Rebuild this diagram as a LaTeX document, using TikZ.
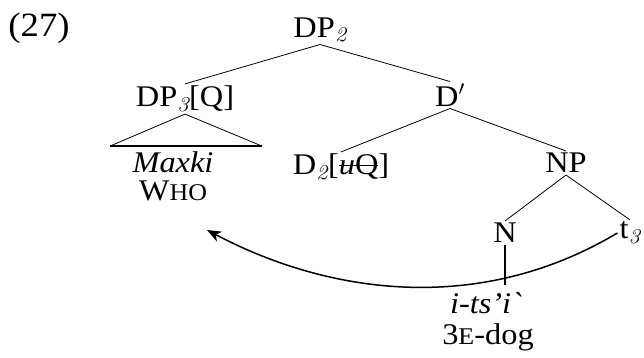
\RequirePackage{fix-cm}
\documentclass[tikz,border=0pt]{standalone}
\usepackage{fontspec}
\setmainfont{Liberation Serif}[FakeStretch=1.08]
\newfontfamily\lmfont{Latin Modern Roman}[FakeStretch=1.08]
\newfontfamily\rawfont{Liberation Serif}[FakeStretch=1.08]
\usetikzlibrary{arrows.meta}
\newcommand{\ix}[1]{\textsubscript{\lmfont\itshape #1}}
\newcommand{\smc}[1]{{\fontsize{24}{24}\selectfont #1}}
\newsavebox{\strikebox}
\newcommand{\strike}[1]{\sbox{\strikebox}{#1}\rlap{\rule[.3em]{\wd\strikebox}{1pt}}\usebox{\strikebox}}

\begin{document}
\begin{tikzpicture}[x=1pt,y=1pt,font=\fontsize{30}{36}\selectfont,
    every node/.style={inner sep=2pt},
    gloss/.style={inner sep=0pt},
    branch/.style={line width=.8pt}]
  \useasboundingbox (0,0) rectangle (644,357);
  \node[font=\fontsize{34}{40}\selectfont] (ex) at (39,329) {(27)};
  % the tree
  \node (dp2) at (320,327) {DP\ix{2}};
  \node (dp3) at (185,258) {DP\ix{3}[Q]};
  \node (dbar) at (450,262) {D$^{\prime}$};
  \node (d2) at (341,190) {D\ix{2}[\strike{\textit{u}Q}]};
  \node (np) at (566,194) {NP};
  \node (n) at (505,124) {N};
  \node (t3) at (630,124) {t\ix{3}};
  \node[gloss] (maxki) at (173,195) {\textit{Maxki}};
  \node[gloss] (who) at (173,166) {W\smc{HO}};
  \node[gloss] (itsi) at (486,54) {\textit{i-ts’i}{\rawfont\itshape `}};
  \node[gloss] (gloss) at (488,20) {3\smc{E}-dog};
  \draw[branch] (dp2.south) -- (dp3.north);
  \draw[branch] (dp2.south) -- (dbar.north);
  \draw[branch] (dbar.south) -- (d2.north);
  \draw[branch] (dbar.south) -- (np.north);
  \draw[branch] (np.south) -- (n.north);
  \draw[branch] (np.south) -- (t3.north);
  % roof over Maxki
  \draw[branch] (dp3.south) ++(-75,-32) coordinate (roofl) -- (dp3.south) -- ++(77,-32) coordinate (roofr);
  \draw[line width=1.4pt] (roofl) -- (roofr);
  \draw[line width=1.2pt] (n.south) -- ([yshift=-40pt]n.south);
  % movement arrow
  \coordinate (landing) at (207,127);
  \draw[line width=1.5pt,-{Stealth[length=14pt,width=11pt,inset=4pt]}]
    (t3.west) .. controls (480,42) and (330,62) .. (landing);
\end{tikzpicture}
\end{document}
